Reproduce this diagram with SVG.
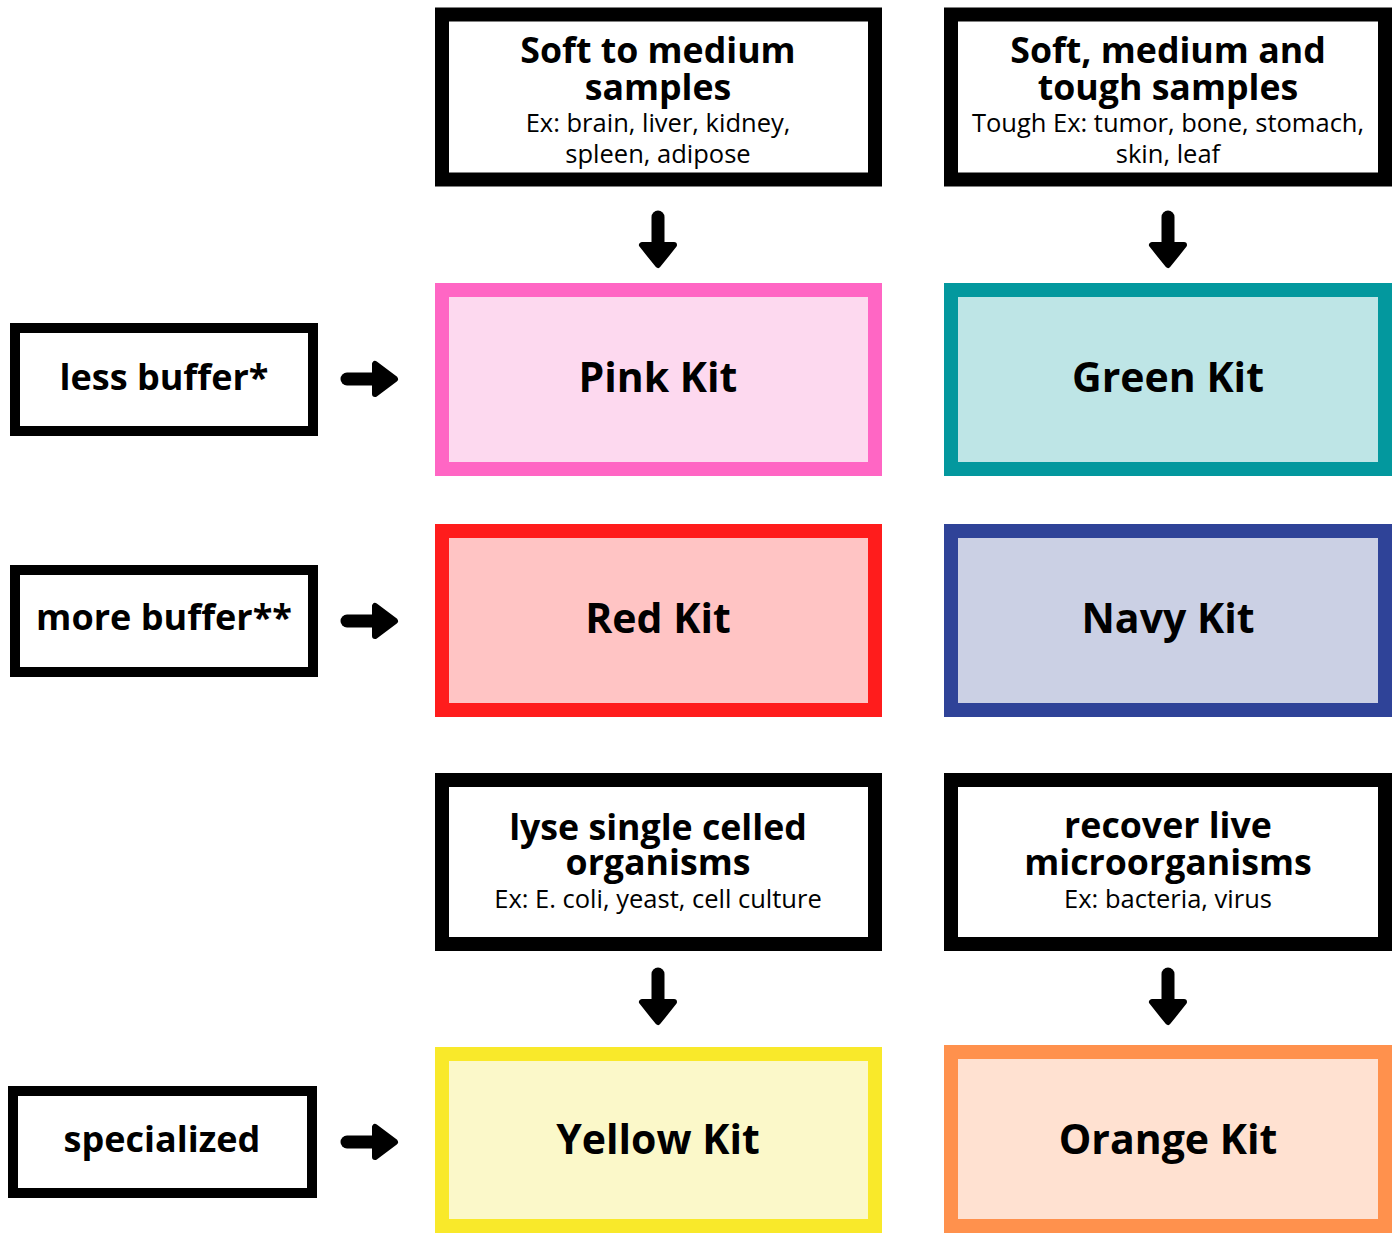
<svg xmlns="http://www.w3.org/2000/svg" width="1399" height="1233" viewBox="0 0 1399 1233">
<defs>
<style>
.box{fill:#fff;stroke:#000;stroke-width:14}
.lbox{fill:#fff;stroke:#000;stroke-width:10}
.t{font-family:"Open Sans","Liberation Sans",sans-serif;font-weight:700;fill:#000;text-anchor:middle}
.h{font-size:35.7px}
.k{font-size:41px}
.l{font-size:36px}
.s{font-family:"Open Sans","Liberation Sans",sans-serif;font-weight:400;font-size:25.5px;fill:#000;text-anchor:middle}
.shaft{stroke:#000;stroke-width:13;stroke-linecap:round;fill:none}
.head{fill:#000;stroke:#000;stroke-width:6;stroke-linejoin:round}
</style>
</defs>
<rect width="1399" height="1233" fill="#fff"/>

<g id="soft-medium">
<rect class="box" x="442" y="14.5" width="433" height="165"/>
<text class="t h" x="658" y="63">Soft to medium</text>
<text class="t h" x="658" y="100">samples</text>
<text class="s" x="658" y="132">Ex: brain, liver, kidney,</text>
<text class="s" x="658" y="163">spleen, adipose</text>
</g>
<g id="soft-medium-tough">
<rect class="box" x="951" y="14.5" width="434" height="165"/>
<text class="t h" x="1168" y="63">Soft, medium and</text>
<text class="t h" x="1168" y="100">tough samples</text>
<text class="s" x="1168" y="132">Tough Ex: tumor, bone, stomach,</text>
<text class="s" x="1168" y="163">skin, leaf</text>
</g>

<g id="less-buffer">
<rect class="lbox" x="15" y="328" width="298" height="103"/>
<text class="t l" x="164" y="390">less buffer*</text>
</g>
<g id="pink-kit">
<rect x="442" y="290" width="433" height="179" fill="#FDD9EF" stroke="#FF66C4" stroke-width="14"/>
<text class="t k" x="658" y="392">Pink Kit</text>
</g>
<g id="green-kit">
<rect x="951" y="290" width="434" height="179" fill="#BEE5E6" stroke="#03989E" stroke-width="14"/>
<text class="t k" x="1168" y="392">Green Kit</text>
</g>

<g id="more-buffer">
<rect class="lbox" x="15" y="570" width="298" height="102"/>
<text class="t l" x="164" y="630">more buffer**</text>
</g>
<g id="red-kit">
<rect x="442" y="531" width="433" height="179" fill="#FFC4C4" stroke="#FF1C1C" stroke-width="14"/>
<text class="t k" x="658" y="633">Red Kit</text>
</g>
<g id="navy-kit">
<rect x="951" y="531" width="434" height="179" fill="#CBD0E4" stroke="#2F4398" stroke-width="14"/>
<text class="t k" x="1168" y="633">Navy Kit</text>
</g>

<g id="lyse">
<rect class="box" x="442" y="780" width="433" height="164"/>
<text class="t h" x="658" y="840">lyse single celled</text>
<text class="t h" x="658" y="875">organisms</text>
<text class="s" x="658" y="908">Ex: E. coli, yeast, cell culture</text>
</g>
<g id="recover">
<rect class="box" x="951" y="780" width="434" height="164"/>
<text class="t h" x="1168" y="838">recover live</text>
<text class="t h" x="1168" y="875">microorganisms</text>
<text class="s" x="1168" y="908">Ex: bacteria, virus</text>
</g>

<g id="specialized">
<rect class="lbox" x="13" y="1091" width="299" height="102"/>
<text class="t l" x="162" y="1152">specialized</text>
</g>
<g id="yellow-kit">
<rect x="442" y="1054" width="433" height="172" fill="#FBF8C9" stroke="#F9E92A" stroke-width="14"/>
<text class="t k" x="658" y="1154">Yellow Kit</text>
</g>
<g id="orange-kit">
<rect x="951" y="1052" width="434" height="174" fill="#FFE1D1" stroke="#FF914D" stroke-width="14"/>
<text class="t k" x="1168" y="1154">Orange Kit</text>
</g>

<g id="connectors">
<line class="shaft" x1="658" y1="217" x2="658" y2="248"/>
<polygon class="head" points="642,245 674,245 658,265"/>
<line class="shaft" x1="1168" y1="217" x2="1168" y2="248"/>
<polygon class="head" points="1152,245 1184,245 1168,265"/>
<line class="shaft" x1="658" y1="974" x2="658" y2="1005"/>
<polygon class="head" points="642,1002 674,1002 658,1022"/>
<line class="shaft" x1="1168" y1="974" x2="1168" y2="1005"/>
<polygon class="head" points="1152,1002 1184,1002 1168,1022"/>
<line class="shaft" x1="347" y1="379" x2="377" y2="379"/>
<polygon class="head" points="375,364 375,394 395,379"/>
<line class="shaft" x1="347" y1="621" x2="377" y2="621"/>
<polygon class="head" points="375,606 375,636 395,621"/>
<line class="shaft" x1="347" y1="1142" x2="377" y2="1142"/>
<polygon class="head" points="375,1127 375,1157 395,1142"/>
</g>
</svg>
